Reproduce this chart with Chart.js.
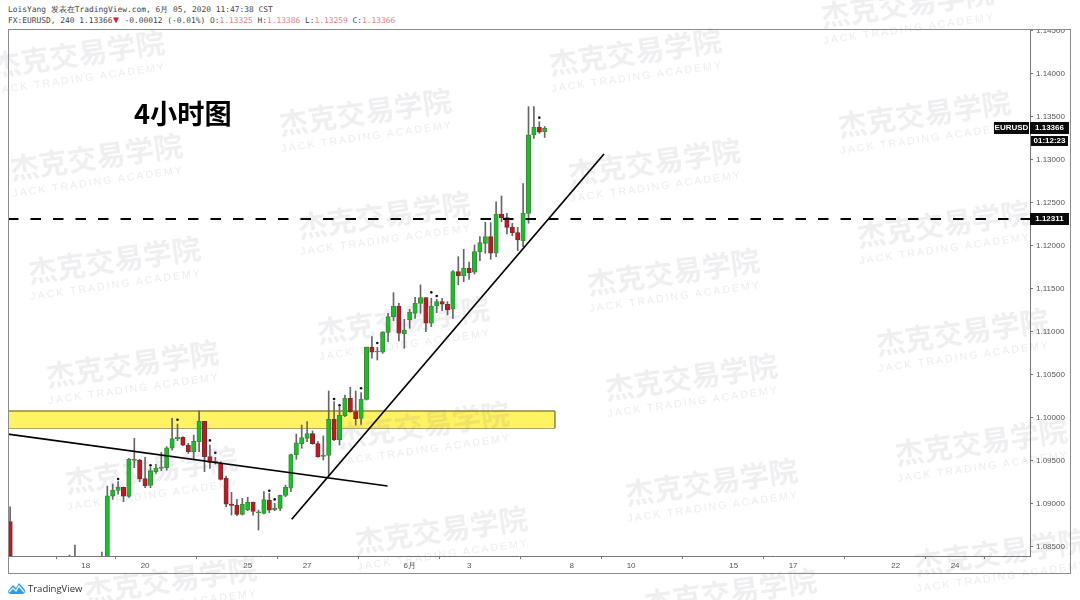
<!DOCTYPE html>
<html><head><meta charset="utf-8">
<script src="https://cdn.jsdelivr.net/npm/chart.js@4/dist/chart.umd.min.js"></script>
<style>
html,body{margin:0;padding:0;background:#fff;width:1080px;height:600px;overflow:hidden}
#wrap{position:relative;width:1080px;height:600px;overflow:hidden}
canvas{position:absolute;left:0;top:0}
.abs{position:absolute;white-space:nowrap}
#mask{left:0;top:0;width:1080px;height:29px;background:#fff}
#frame{left:8px;top:29px;width:1063px;height:545px;border:1px solid #8c8c8c;box-sizing:border-box}
.hdr{font:7.9px "DejaVu Sans Mono",monospace;color:#444;left:8px}
.pk{color:#e87f86}
.tri{display:inline-block;width:7.2px;text-align:center;color:#d5232b;font-size:10px;line-height:8px}
.tag{background:#0b0b0b;color:#fff;font:bold 8px "Liberation Sans",sans-serif;text-align:center}
.wm{font:bold 29px "Noto Sans CJK SC",sans-serif;color:rgba(110,115,130,.115);transform:translate(-50%,-50%) rotate(-8deg)}
.ws{font:10.5px "Liberation Sans",sans-serif;letter-spacing:2.1px;color:rgba(110,115,130,.14);transform:translate(-50%,-50%) rotate(-8deg)}
</style></head><body><div id="wrap">
<canvas id="c" width="1080" height="600"></canvas>
<div id="mask" class="abs"></div>
<div id="frame" class="abs"></div>
<div class="abs hdr" style="top:4px">LoisYang 发表在TradingView.com, 6月 05, 2020 11:47:38 CST</div>
<div class="abs hdr" style="top:15.5px">FX:EURUSD, 240 1.13366<span class="tri">▼</span> -0.00012 (-0.01%) O:<span class="pk">1.13325</span> H:<span class="pk">1.13386</span> L:<span class="pk">1.13259</span> C:<span class="pk">1.13366</span></div>
<div class="abs" style="left:134px;top:93px;font:bold 27.2px 'Noto Sans CJK SC',sans-serif;color:#000;line-height:38px">4小时图</div>
<div class="abs tag" style="left:994px;top:122px;width:35px;height:12px;line-height:12px">EURUSD</div>
<div class="abs tag" style="left:1030px;top:122px;width:39px;height:12px;line-height:12px">1.13366</div>
<div class="abs tag" style="left:1031px;top:136px;width:37px;height:10px;line-height:10px">01:12:23</div>
<div class="abs tag" style="left:1030px;top:213px;width:39px;height:12px;line-height:12px">1.12311</div>
<svg class="abs" style="left:8px;top:582px" width="18" height="13" viewBox="0 0 18 13"><path d="M0 9 L5 3 L8 6 L11 1 L17 8 L17 9 Q17 12 14 12 L3 12 Q0 12 0 9Z" fill="#2a9df4"/><path d="M1 10 L5 6 L8 9 L11 4 L16 10" fill="none" stroke="#fff" stroke-width="1.2"/></svg>
<div class="abs" style="left:28px;top:582px;font:9.5px 'Open Sans',sans-serif;color:#333;line-height:13px">TradingView</div>
<script>
const barIndex=[0,11,12,17,18,19,20,21,22,23,24,25,26,27,28,29,30,31,32,33,34,35,36,37,38,39,40,41,42,43,44,45,46,47,48,49,50,51,52,53,54,55,56,57,58,59,60,61,62,63,64,65,66,67,68,69,70,71,72,73,74,75,76,77,78,79,80,81,82,83,84,85,86,87,88,89,90,91,92,93,94,95,96,97,98,99];
const open=[1.08791,1.08350,1.08380,1.08320,1.08250,1.09089,1.09155,1.09190,1.09085,1.09504,1.09508,1.09291,1.09213,1.09372,1.09411,1.09419,1.09647,1.09756,1.09771,1.09682,1.09605,1.09721,1.09957,1.09547,1.09481,1.09469,1.09295,1.08996,1.08985,1.08876,1.08930,1.09016,1.08895,1.08888,1.09043,1.08930,1.08946,1.09097,1.09182,1.09566,1.09698,1.09760,1.09815,1.09698,1.09551,1.09563,1.09981,1.09745,1.10024,1.10226,1.10071,1.09993,1.10214,1.10819,1.10764,1.10761,1.10993,1.11175,1.11299,1.10978,1.11137,1.11214,1.11330,1.11396,1.11098,1.11299,1.11350,1.11319,1.11261,1.11699,1.11648,1.11741,1.11691,1.11927,1.12028,1.12106,1.11912,1.12369,1.12326,1.12218,1.12152,1.12059,1.12377,1.13288,1.13377,1.13325];
const high=[1.08965,1.08403,1.08519,1.08438,1.09205,1.09229,1.09256,1.09195,1.09527,1.09760,1.09516,1.09539,1.09422,1.09457,1.09597,1.09663,1.09992,1.09926,1.09779,1.09702,1.09798,1.10081,1.09957,1.09682,1.09539,1.09488,1.09322,1.09132,1.09050,1.09062,1.09074,1.09019,1.08926,1.09140,1.09120,1.09004,1.09101,1.09217,1.09578,1.09810,1.09915,1.09954,1.09846,1.09722,1.09788,1.10311,1.10187,1.10121,1.10264,1.10354,1.10311,1.10292,1.10822,1.10943,1.10819,1.11001,1.11214,1.11454,1.11330,1.11144,1.11261,1.11400,1.11544,1.11396,1.11388,1.11377,1.11388,1.11350,1.11710,1.11873,1.11958,1.11811,1.12009,1.12106,1.12272,1.12268,1.12509,1.12578,1.12377,1.12261,1.12214,1.12722,1.13617,1.13617,1.13443,1.13386];
const low=[1.08200,1.08300,1.08300,1.08280,1.08200,1.09050,1.09112,1.09023,1.09074,1.09419,1.09256,1.09186,1.09186,1.09353,1.09384,1.09391,1.09624,1.09733,1.09674,1.09585,1.09516,1.09605,1.09372,1.09411,1.09461,1.09275,1.08965,1.08868,1.08860,1.08868,1.08919,1.08868,1.08694,1.08880,1.08895,1.08919,1.08919,1.09081,1.09140,1.09516,1.09644,1.09722,1.09691,1.09540,1.09508,1.09322,1.09733,1.09683,1.10012,1.10063,1.09915,1.09923,1.10205,1.10691,1.10671,1.10749,1.10885,1.11129,1.10892,1.10807,1.11040,1.11156,1.11214,1.11001,1.11059,1.11222,1.11245,1.11195,1.11156,1.11544,1.11582,1.11609,1.11671,1.11826,1.11912,1.11842,1.11873,1.12280,1.12137,1.12117,1.11943,1.11989,1.12261,1.13249,1.13307,1.13259];
const close=[1.08300,1.08320,1.08340,1.08370,1.09093,1.09159,1.09194,1.09089,1.09516,1.09516,1.09287,1.09209,1.09384,1.09415,1.09422,1.09651,1.09756,1.09775,1.09682,1.09605,1.09725,1.09957,1.09547,1.09481,1.09492,1.09283,1.08996,1.08981,1.08876,1.08992,1.09016,1.08911,1.08907,1.09047,1.08926,1.08950,1.09097,1.09190,1.09570,1.09709,1.09768,1.09815,1.09698,1.09543,1.09563,1.09981,1.09745,1.10028,1.10229,1.10071,1.09989,1.10214,1.10822,1.10761,1.10776,1.10997,1.11175,1.11299,1.10982,1.11020,1.11226,1.11330,1.11396,1.11098,1.11299,1.11350,1.11319,1.11253,1.11699,1.11652,1.11741,1.11687,1.11931,1.12036,1.12106,1.11912,1.12369,1.12323,1.12214,1.12152,1.12067,1.12377,1.13288,1.13377,1.13319,1.13366];
const markIndex=[20,26,31,37,38,48,49,60,61,65,68,78,79,98];
const markPrice=[1.09287,1.09446,1.09977,1.09736,1.09593,1.09151,1.09050,1.10218,1.10144,1.10342,1.10869,1.11458,1.11416,1.13489];
const xTickValues=[14,25,44,55,74,85,104,115,134,145,164,175];
const xTickLabels=['18','20','25','27','6月','3','8','10','15','17','22','24'];
const yTickValues=[1.085,1.09,1.095,1.10,1.105,1.11,1.115,1.12,1.125,1.13,1.135,1.14,1.145];
const xRange=[-0.39,188.87];
const yRange=[1.08392,1.1452];
const levelPrice=1.12311;
const zonePrices=[1.09880,1.10078];
const zoneEnd=100.9;
const resistX=[-0.39,69.9],resistY=[1.09810,1.09206];
const supportX=[52.15,109.98],supportY=[1.08819,1.13066];

const pts=(xs,ys)=>xs.map((x,i)=>({x,y:ys[i]}));
const up=barIndex.map((_,i)=>close[i]>=open[i]);
new Chart(document.getElementById('c'),{
 type:'bar',
 data:{datasets:[
  {type:'line',label:'support',data:pts(supportX,supportY),borderColor:'#000',borderWidth:1.7,pointRadius:0,order:0},
  {type:'line',label:'resistance',data:pts(resistX,resistY),borderColor:'#000',borderWidth:1.7,pointRadius:0,order:0},
  {type:'line',label:'level',data:pts(xRange,[levelPrice,levelPrice]),borderColor:'#000',borderWidth:2,borderDash:[10.5,12],pointRadius:0,order:0},
  {type:'line',label:'marks',data:pts(markIndex,markPrice),showLine:false,pointRadius:1.3,pointBackgroundColor:'#111',pointBorderWidth:0,order:1},
  {label:'body',data:barIndex.map((x,i)=>({x,y:[open[i],close[i]]})),barThickness:4.4,backgroundColor:up.map(u=>u?'#0fc424':'#c8141e'),borderColor:up.map(u=>u?'#3f8a3c':'#7c2a2e'),borderWidth:1,borderSkipped:false,grouped:false,order:2},
  {label:'wick',data:barIndex.map((x,i)=>({x,y:[low[i],high[i]]})),barThickness:1,backgroundColor:'#666',borderWidth:0,grouped:false,order:3},
  {type:'line',label:'zoneEdge',data:pts([zoneEnd,zoneEnd],zonePrices),borderColor:'#8f8a3a',borderWidth:1.5,pointRadius:0,order:4},
  {type:'line',label:'zoneTop',data:pts([xRange[0],zoneEnd],[zonePrices[1],zonePrices[1]]),borderColor:'#8f8a3a',borderWidth:1.5,pointRadius:0,fill:'+1',backgroundColor:'#fff263',order:5},
  {type:'line',label:'zoneBottom',data:pts([xRange[0],zoneEnd],[zonePrices[0],zonePrices[0]]),borderColor:'#8f8a3a',borderWidth:1.5,pointRadius:0,order:6}
 ]},
 options:{
  responsive:false,animation:false,devicePixelRatio:1,
  layout:{padding:{left:8,top:29,right:8.3,bottom:26}},
  plugins:{legend:{display:false},tooltip:{enabled:false}},
  elements:{line:{tension:0}},
  scales:{
   x:{type:'linear',offset:false,min:xRange[0],max:xRange[1],
    afterBuildTicks:s=>{s.ticks=xTickValues.map(value=>({value}));},
    afterFit:s=>{s.height=18;},
    grid:{drawOnChartArea:false,drawTicks:true,tickLength:3,color:'#777'},
    border:{color:'#777'},
    ticks:{autoSkip:false,maxRotation:0,padding:2,color:'#555',font:{size:8,family:'Liberation Sans'},
     callback:v=>{const i=xTickValues.indexOf(v);return i<0?'':xTickLabels[i];}}},
   y:{type:'linear',position:'right',min:yRange[0],max:yRange[1],
    afterBuildTicks:s=>{s.ticks=yTickValues.map(value=>({value}));},
    afterFit:s=>{s.width=41.7;},
    grid:{drawOnChartArea:false,drawTicks:true,tickLength:3,color:'#777'},
    border:{color:'#777'},
    ticks:{padding:3,color:'#555',font:{size:8,family:'Liberation Sans'},callback:v=>v.toFixed(5)}}
  }
 }
});
const wmCenters=[[78,52],[96,155],[114,258],[132,362],[151,468],[170,578],[365,110],[384,213],[403,318],[423,423],[441,528],[635,50],[654,160],[673,270],[691,375],[711,480],[730,590],[907,2],[924,112],[943,222],[962,330],[981,440],[1000,550]];
const wrap=document.getElementById('wrap');
wmCenters.forEach(([x,y])=>{
 const a=document.createElement('div');a.className='abs wm';a.textContent='杰克交易学院';a.style.left=x+'px';a.style.top=y+'px';wrap.appendChild(a);
 const b=document.createElement('div');b.className='abs ws';b.textContent='JACK TRADING ACADEMY';b.style.left=(x+2)+'px';b.style.top=(y+26)+'px';wrap.appendChild(b);
});
</script>
</div></body></html>
